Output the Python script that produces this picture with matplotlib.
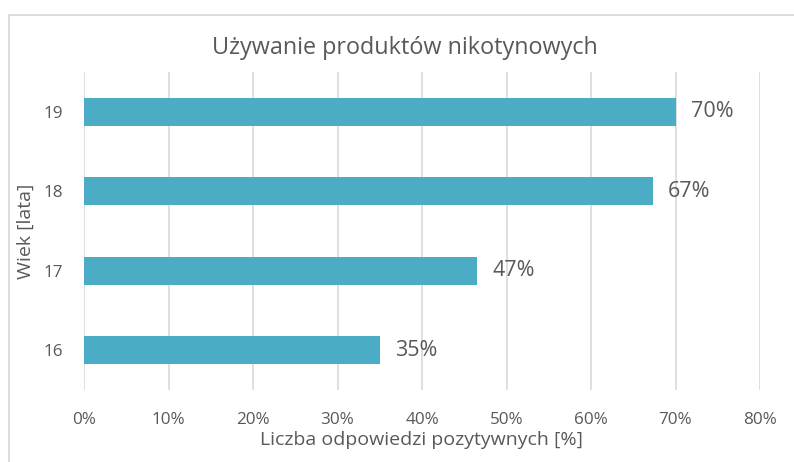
import matplotlib
matplotlib.use("Agg")
import matplotlib.pyplot as plt
from matplotlib.patches import Rectangle
from matplotlib.ticker import FuncFormatter

categories = ["16", "17", "18", "19"]
values = [35.0, 46.5, 67.3, 70.0]
labels = ["35%", "47%", "67%", "70%"]
xticks = [0, 10, 20, 30, 40, 50, 60, 70, 80]

plt.rcParams['font.family'] = ['Open Sans', 'DejaVu Sans']
TXT = '#595959'
BAR = '#4BACC6'
GRID = '#D9D9D9'

fig = plt.figure(figsize=(7.94, 4.62), dpi=100)
fig.patch.set_facecolor('white')
frame = Rectangle((9/794, -0.1), 1.2, 1 - 15/462 + 0.1, transform=fig.transFigure,
                  fill=False, edgecolor=GRID, linewidth=1.3, zorder=0)
fig.patches.append(frame)

ax = fig.add_axes([84/794, 1 - 390/462, (760 - 84)/794, (390 - 72)/462])
y = range(len(categories))
ax.barh(y, values, height=0.35, color=BAR, zorder=3)
for yi, v, l in zip(y, values, labels):
    ax.text(v + 1.8, yi, l, va='center', ha='left', fontsize=15.5, color=TXT)

ax.set_xlim(0, 80)
ax.set_ylim(-0.5, len(categories) - 0.5)
ax.set_xticks(xticks)
ax.xaxis.set_major_formatter(FuncFormatter(lambda v, p: f"{int(v)}%"))
ax.set_yticks(list(y))
ax.set_yticklabels(categories)
ax.grid(axis='x', color=GRID, linewidth=1.2, zorder=0)
for s in ax.spines.values():
    s.set_visible(False)
ax.tick_params(axis='both', length=0, colors=TXT, labelsize=12.3)
ax.tick_params(axis='x', pad=16)
ax.tick_params(axis='y', pad=15)
ax.set_xlabel("Liczba odpowiedzi pozytywnych [%]", fontsize=14, color=TXT, labelpad=2)
ax.set_ylabel("Wiek [lata]", fontsize=14, color=TXT, labelpad=6)
fig.text(405/794, 1 - 48/462, "Używanie produktów nikotynowych",
         ha='center', va='center', fontsize=16.8, color=TXT)

fig.savefig("out.png", dpi=100, facecolor='white')
